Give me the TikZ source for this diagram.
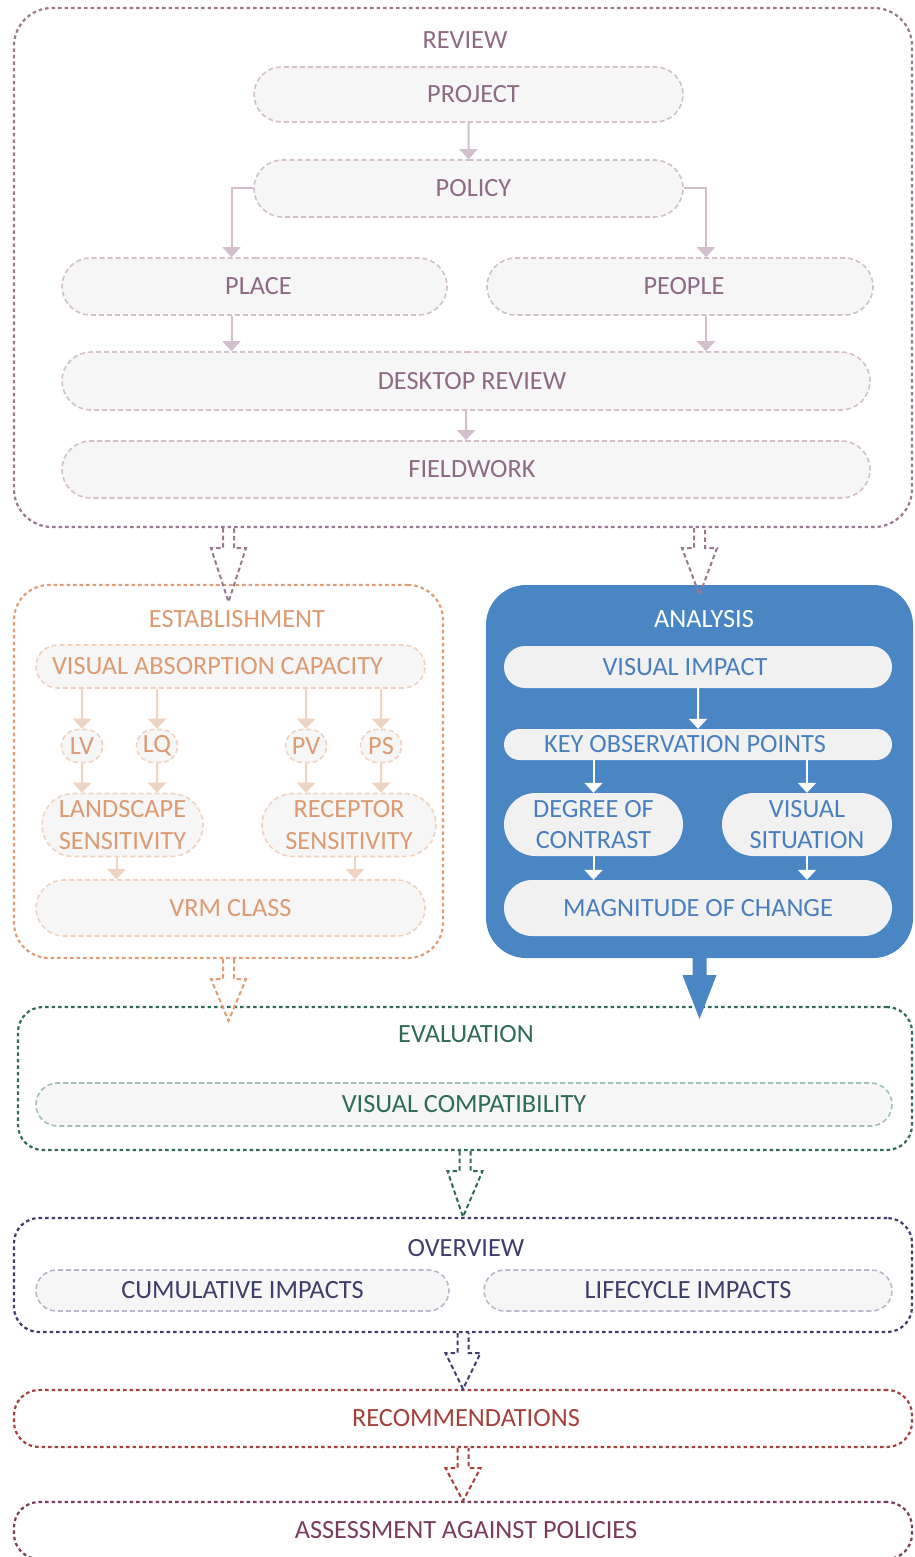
\documentclass[tikz,border=0pt]{standalone}
\usepackage{fontspec}
\setmainfont{Carlito}
\usetikzlibrary{arrows.meta,shapes.misc,calc}

\definecolor{reviewline}{HTML}{9A7890}
\definecolor{reviewtext}{HTML}{8E6A83}
\definecolor{reviewsoft}{HTML}{D2BFCB}
\definecolor{estline}{HTML}{E09D74}
\definecolor{esttext}{HTML}{DC9B73}
\definecolor{estsoft}{HTML}{F0D2C0}
\definecolor{analysisblue}{HTML}{4A86C4}
\definecolor{analysistext}{HTML}{4A7FBF}
\definecolor{evalgreen}{HTML}{2F6B55}
\definecolor{evalsoft}{HTML}{A0C0B3}
\definecolor{overnavy}{HTML}{3D3F6B}
\definecolor{oversoft}{HTML}{B8B8CA}
\definecolor{recred}{HTML}{A5403A}
\definecolor{assessplum}{HTML}{7A3B5C}
\definecolor{pillfill}{HTML}{F6F6F6}
\definecolor{pillwhite}{HTML}{F1F1F1}

\tikzset{
  frame/.style={draw=#1, line width=2.2pt, dash pattern=on 3.5pt off 3pt, rounded corners=38pt},
  pill/.style={rounded rectangle, draw=#1, fill=pillfill, line width=1.6pt, dash pattern=on 5pt off 3pt, inner sep=0pt},
  solidpill/.style={rounded rectangle, fill=pillwhite, text=analysistext, inner sep=0pt},
  flow/.style={draw=#1, line width=2pt, -{Triangle[width=18pt,length=10pt]}},
  hollow/.style={draw=#1, line width=2pt, dash pattern=on 4.5pt off 3pt},
}

% dashed outline of a fat down arrow, from #1 to #2
\newcommand{\hollowdown}[3]{%
  \draw[hollow=#3] ($(#1)+(-5.5,0)$) -- ++(0,20) -- ++(-12,0) -- (#2)
    -- ($(#1)+(17.5,20)$) -- ++(-12,0) -- ++(0,-20);}

\begin{document}
\begin{tikzpicture}[x=1pt, y=-1pt, font=\fontsize{26.3}{31.5}\selectfont]
  \clip (0,0) rectangle (914,1557);

  % review
  \node[frame=reviewline, minimum width=898pt, minimum height=519pt] (review) at (463,267.5) {};
  \node[text=reviewtext] (reviewlabel) at (465,40) {REVIEW};
  \node[pill=reviewsoft, text=reviewtext, minimum width=429pt, minimum height=55pt] (project) at (468.5,94.5) {\kern10pt PROJECT};
  \node[pill=reviewsoft, text=reviewtext, minimum width=429pt, minimum height=57pt] (policy) at (468.5,188.5) {\kern10pt POLICY};
  \node[pill=reviewsoft, text=reviewtext, minimum width=385pt, minimum height=57pt] (place) at (254.5,286.5) {\kern8pt PLACE};
  \node[pill=reviewsoft, text=reviewtext, minimum width=386pt, minimum height=57pt] (people) at (680,286.5) {\kern8pt PEOPLE};
  \node[pill=reviewsoft, text=reviewtext, minimum width=808pt, minimum height=58pt] (desktop) at (466,381) {\kern12pt DESKTOP REVIEW};
  \node[pill=reviewsoft, text=reviewtext, minimum width=808pt, minimum height=57pt] (fieldwork) at (466,469.5) {\kern12pt FIELDWORK};

  \draw[flow=reviewsoft] (project) -- (policy);
  \draw[flow=reviewsoft] (policy.west) -| ([xshift=-23pt]place.north);
  \draw[flow=reviewsoft] (policy.east) -| ([xshift=26pt]people.north);
  \draw[flow=reviewsoft] ([xshift=-23pt]place.south) -- ([xshift=-23pt]place.south |- desktop.north);
  \draw[flow=reviewsoft] ([xshift=26pt]people.south) -- ([xshift=26pt]people.south |- desktop.north);
  \draw[flow=reviewsoft] (desktop) -- (fieldwork);

  % establishment
  \node[frame=estline, rounded corners=35pt, minimum width=429pt, minimum height=373pt] (establish) at (228.5,771.5) {};
  \node[text=esttext] (establabel) at (237,619) {ESTABLISHMENT};
  \node[pill=estsoft, text=esttext, minimum width=389pt, minimum height=43pt] (vac) at (230.5,666.5) {VISUAL ABSORPTION CAPACITY\kern26pt};
  \node[pill=estsoft, text=esttext, minimum width=41pt, minimum height=33pt] (lv) at (82,746) {LV};
  \node[pill=estsoft, text=esttext, minimum width=41pt, minimum height=33pt] (lq) at (157,746) {LQ};
  \node[pill=estsoft, text=esttext, minimum width=41pt, minimum height=33pt] (pv) at (306,746) {PV};
  \node[pill=estsoft, text=esttext, minimum width=41pt, minimum height=33pt] (ps) at (381,746) {PS};
  \node[pill=estsoft, text=esttext, align=center, minimum width=161pt, minimum height=63pt] (landscape) at (122.5,825) {LANDSCAPE\\SENSITIVITY};
  \node[pill=estsoft, text=esttext, align=center, minimum width=174pt, minimum height=63pt] (receptor) at (349,825) {RECEPTOR\\SENSITIVITY};
  \node[pill=estsoft, text=esttext, minimum width=389pt, minimum height=56pt] (vrm) at (230.5,908) {VRM CLASS};

  \foreach \n in {lv,lq,pv,ps}
    \draw[flow=estsoft] (vac.south -| \n) -- (\n);
  \foreach \n/\m in {lv/landscape,lq/landscape,pv/receptor,ps/receptor}
    \draw[flow=estsoft] (\n) -- (\n |- \m.north);
  \draw[flow=estsoft] ([xshift=-6pt]landscape.south) -- ([xshift=-6pt]landscape.south |- vrm.north);
  \draw[flow=estsoft] ([xshift=6pt]receptor.south) -- ([xshift=6pt]receptor.south |- vrm.north);

  % analysis
  \node[fill=analysisblue, rounded corners=40pt, minimum width=427pt, minimum height=373pt] (analysis) at (699.5,771.5) {};
  \node[text=white] (analysislabel) at (704,619) {ANALYSIS};
  \node[solidpill, minimum width=388pt, minimum height=42pt] (impact) at (698,667) {VISUAL IMPACT\kern26pt};
  \node[solidpill, minimum width=388pt, minimum height=31pt] (kop) at (698,744.5) {KEY OBSERVATION POINTS\kern26pt};
  \node[solidpill, align=center, minimum width=179pt, minimum height=63pt] (contrast) at (593.5,824.5) {DEGREE OF\\CONTRAST};
  \node[solidpill, align=center, minimum width=170pt, minimum height=63pt] (situation) at (807,824.5) {VISUAL\\SITUATION};
  \node[solidpill, minimum width=388pt, minimum height=56pt] (magnitude) at (698,908) {MAGNITUDE OF CHANGE};

  \draw[flow=white] (impact) -- (kop);
  \draw[flow=white] (kop.south -| contrast.north) -- (contrast.north);
  \draw[flow=white] (kop.south -| situation.north) -- (situation.north);
  \draw[flow=white] (contrast.south) -- (contrast.south |- magnitude.north);
  \draw[flow=white] (situation.south) -- (situation.south |- magnitude.north);

  % evaluation
  \node[frame=evalgreen, rounded corners=25pt, minimum width=894pt, minimum height=143pt] (evaluation) at (465,1078.5) {};
  \node[text=evalgreen] (evallabel) at (466,1034) {EVALUATION};
  \node[pill=evalsoft, text=evalgreen, minimum width=856pt, minimum height=43pt] (compat) at (464,1104.5) {VISUAL COMPATIBILITY};

  % overview
  \node[frame=overnavy, rounded corners=25pt, minimum width=898pt, minimum height=114pt] (overview) at (463,1275) {};
  \node[text=overnavy] (overlabel) at (466,1248) {OVERVIEW};
  \node[pill=oversoft, text=overnavy, minimum width=413pt, minimum height=41pt] (cumulative) at (242.5,1290.5) {CUMULATIVE IMPACTS};
  \node[pill=oversoft, text=overnavy, minimum width=408pt, minimum height=41pt] (lifecycle) at (688,1290.5) {LIFECYCLE IMPACTS};

  % last two steps
  \node[frame=recred, text=recred, rounded corners=25pt, minimum width=898pt, minimum height=57pt] (recommend) at (463,1418.5) {\kern6pt RECOMMENDATIONS};
  \node[frame=assessplum, text=assessplum, rounded corners=25pt, minimum width=898pt, minimum height=57pt] (assess) at (463,1530.5) {\kern6pt ASSESSMENT AGAINST POLICIES};

  % links between the stages
  \coordinate (revleft) at (review.south -| establish.north);
  \coordinate (revright) at (review.south -| analysis.north);
  \coordinate (estout) at (establish.south);
  \coordinate (evaltop) at (evaluation.north -| establish.south);
  \coordinate (evaltopb) at (evaluation.north -| analysis.south);
  \coordinate (evalout) at (evaluation.south);
  \coordinate (overout) at (overview.south);
  \coordinate (recout) at (recommend.south);

  \hollowdown{revleft}{$(establish.north)+(0,18)$}{reviewline}
  \hollowdown{revright}{$(analysis.north)+(0,10)$}{reviewline}
  \hollowdown{estout}{$(evaltop)+(0,15)$}{estline}
  \hollowdown{evalout}{overview.north}{evalgreen}
  \hollowdown{overout}{recommend.north}{overnavy}
  \hollowdown{recout}{assess.north}{recred}

  % solid arrow out of the analysis box
  \fill[analysisblue] ($(analysis.south)+(-7,-1)$) -- ++(0,18) -- ++(-10,0) -- ($(evaltopb)+(0,13)$)
    -- ($(analysis.south)+(17,17)$) -- ++(-10,0) -- ++(0,-18) -- cycle;
\end{tikzpicture}
\end{document}
